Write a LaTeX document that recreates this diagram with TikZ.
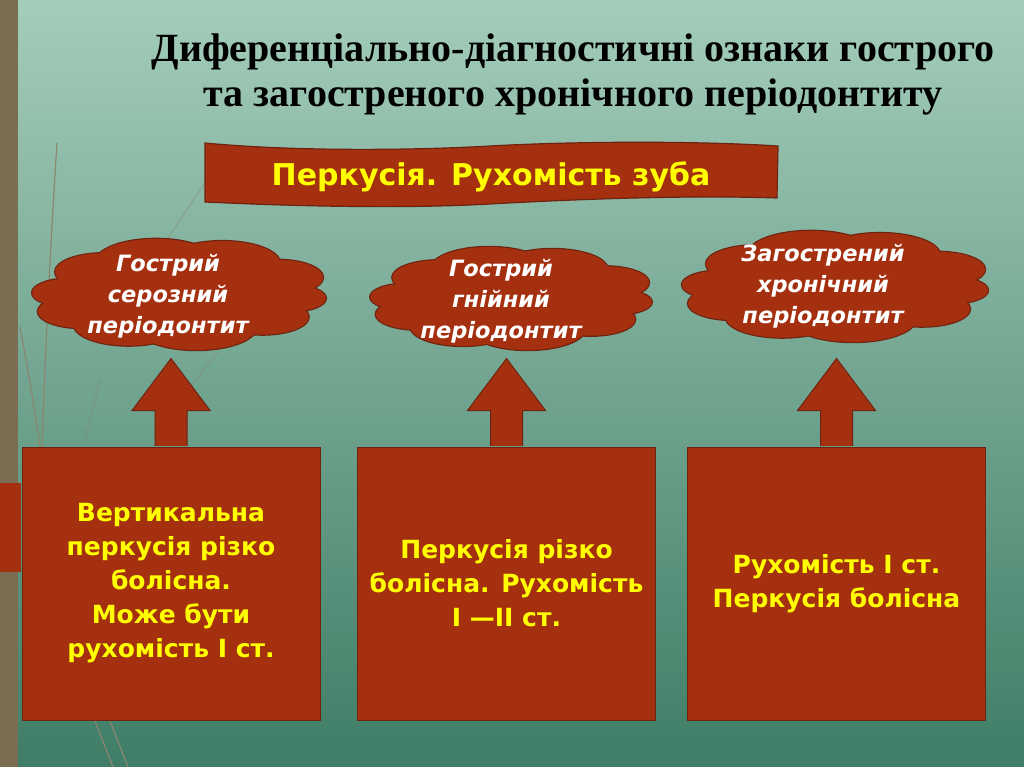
\documentclass[tikz,border=0pt]{standalone}
\usepackage{fontspec}
\setmainfont{Liberation Serif}
\newfontfamily\slidefont{DejaVu Sans}
\usetikzlibrary{calc}

\definecolor{bgtop}{HTML}{A4CDBB}
\definecolor{bgmid}{HTML}{72B09A}
\definecolor{bgbot}{HTML}{3F7D66}
\definecolor{stripe}{HTML}{7A6D52}
\definecolor{brick}{HTML}{A5300F}
\definecolor{brickline}{HTML}{6E2310}
\definecolor{grass}{HTML}{8A8670}
\definecolor{slideyellow}{HTML}{FFFF00}

% lobes of a cloud: x/y/r in a unit box
\newcommand\cloudlobes{-0.76/-0.04/0.26, -0.52/-0.42/0.34, -0.16/-0.60/0.42, 0.30/-0.58/0.40,
  0.68/-0.32/0.32, 0.78/0.06/0.24, 0.58/0.40/0.32, 0.12/0.58/0.42, -0.35/0.54/0.38, -0.68/0.30/0.30}

\tikzset{
  cloudpic/.pic={
    \foreach \cx/\cy/\r in \cloudlobes
      \draw[brickline,line width=2.4pt] (\cx,\cy) ellipse [x radius=\r,y radius=\r];
    \foreach \cx/\cy/\r in \cloudlobes
      \fill[brick] (\cx,\cy) ellipse [x radius=\r,y radius=\r];
    \fill[brick] (0,0) ellipse [x radius=0.78,y radius=0.62];
  }
}

\begin{document}
\begin{tikzpicture}[x=1pt,y=-1pt,line join=miter,
  box/.style={draw=brickline,fill=brick,line width=1pt,minimum width=298,minimum height=273,
    inner sep=0pt,align=center,text=slideyellow,font=\slidefont\bfseries\fontsize{25}{34}\selectfont},
  puffnote/.style={align=center,text=white,font=\slidefont\bfseries\itshape\fontsize{22.5}{31}\selectfont},
  uparrow/.style={draw=brickline,fill=brick,line width=1pt}]
  % tlo slajdu
  \useasboundingbox (0,0) rectangle (1024,767);
  \shade[top color=bgtop,middle color=bgmid,bottom color=bgbot] (0,0) rectangle (1024,767);
  \fill[stripe] (0,0) rectangle (18,767);
  \fill[brick] (0,483) rectangle (21,572);
  % travinki
  \draw[grass,line width=1.2pt] (57,143) .. controls (50,250) and (45,360) .. (42,447);
  \draw[grass,line width=1.2pt] (20,327) .. controls (28,370) and (35,410) .. (40,447);
  \draw[grass,line width=0.8pt,opacity=0.6] (207,180) -- (167,240);
  \draw[grass,line width=0.8pt,opacity=0.6] (218,352) -- (192,385);
  \draw[grass,line width=0.8pt,opacity=0.6] (100,380) -- (85,440);
  \draw[grass,line width=1.2pt] (95,721) -- (113,767);
  \draw[grass,line width=1.2pt] (110,721) -- (128,767);

  % zagolovok
  \node[font=\bfseries\fontsize{40}{45}\selectfont,align=center] (title) at (573,74)
    {Диференціально-діагностичні ознаки гострого\\та загостреного хронічного періодонтиту};

  % strichka
  \draw[fill=brick,draw=brickline,line width=1.2pt] (205,143)
    .. controls (300,152) and (420,150) .. (490,146)
    .. controls (580,141) and (700,141) .. (778,146) -- (777,198)
    .. controls (690,195) and (580,199) .. (490,204)
    .. controls (400,209) and (290,206) .. (205,202) -- cycle;
  \node[text=slideyellow,font=\slidefont\bfseries\fontsize{30}{36}\selectfont] (perc) at (491,177)
    {Перкусія. Рухомість зуба};

  % khmarky
  \pic[xscale=144,yscale=55] at (179,295) {cloudpic};
  \pic[xscale=138,yscale=51] at (511,299) {cloudpic};
  \pic[xscale=150,yscale=55] at (835,287) {cloudpic};
  \node[puffnote] (c1t) at (168,296) {Гострий\\серозний\\періодонтит};
  \node[puffnote] (c2t) at (501,301) {Гострий\\гнійний\\періодонтит};
  \node[puffnote] (c3t) at (823,286) {Загострений\\хронічний\\періодонтит};

  % pryamokutnyky
  \node[box] (b1) at (171,583.5) {Вертикальна\\перкусія різко\\болісна.\\Може бути\\рухомість І ст.};
  \node[box] (b2) at (506.5,583.5) {Перкусія різко\\болісна. Рухомість\\І —ІІ ст.};
  \node[box] (b3) at (836.5,583.5) {Рухомість І ст.\\Перкусія болісна};

  % strilky vgoru
  \foreach \b in {b1,b2,b3}
    \draw[uparrow] ($(\b.north)+(-16,-0.6)$) -- ++(0,-35.4) -- ++(-23,0) -- ($(\b.north)+(0,-88)$)
      -- ($(\b.north)+(39,-36)$) -- ++(-23,0) -- ($(\b.north)+(16,-0.6)$);
\end{tikzpicture}
\end{document}
